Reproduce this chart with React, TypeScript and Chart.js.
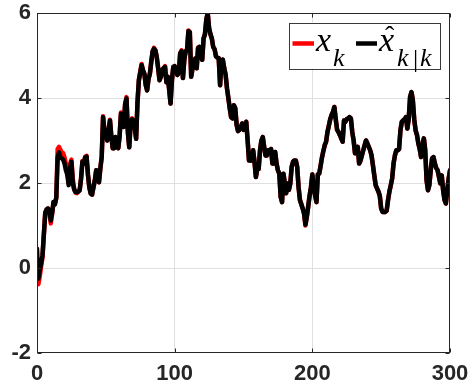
import React, { useEffect, useRef } from "react";
import { Chart, registerables } from "chart.js";

Chart.register(...registerables);

// True state x_k, one value per time step k = 0..300
const trueState: number[] = [
  -0.05, -0.38, -0.2, 0.05, 0.25, 0.8, 1.3, 1.38, 1.4, 1.33,
  1.05, 1.28, 1.55, 1.5, 1.65, 2.8, 2.85, 2.78, 2.72, 2.7,
  2.6, 2.45, 2.3, 2.0, 2.45, 2.55, 2.1, 1.85, 1.77, 1.76,
  1.8, 1.83, 2.1, 2.52, 2.45, 2.62, 2.64, 2.2, 1.9, 1.75,
  1.73, 1.9, 2.06, 2.3, 2.25, 2.02, 2.34, 2.62, 3.57, 3.2,
  3.15, 3.0, 3.25, 3.49, 3.1, 2.82, 2.82, 3.08, 3.05, 2.82,
  3.1, 3.66, 3.5, 3.32, 3.85, 4.02, 3.2, 2.84, 3.4, 3.52,
  3.47, 3.3, 3.04, 3.9, 4.42, 4.62, 4.8, 4.65, 4.57, 4.3,
  4.18, 4.45, 4.57, 4.85, 5.1, 5.18, 5.12, 4.96, 4.7, 4.42,
  4.5, 4.66, 4.7, 4.75, 4.37, 4.5, 4.2, 3.87, 4.42, 4.73,
  4.75, 4.7, 4.54, 4.6, 5.05, 5.12, 4.47, 4.9, 5.1, 5.14,
  5.59, 5.55, 4.5, 4.7, 4.72, 4.93, 4.7, 5.19, 5.2, 5.0,
  4.9, 5.4, 5.5, 5.85, 6.0, 5.64, 5.5, 5.4, 5.2, 5.15,
  4.98, 4.95, 4.94, 4.3, 4.86, 4.9, 4.7, 4.55, 4.23, 4.0,
  3.76, 3.55, 3.52, 3.83, 3.76, 3.37, 3.22, 3.25, 3.3, 3.4,
  3.25, 3.3, 3.44, 3.0, 2.53, 2.53, 2.53, 2.77, 2.5, 2.14,
  2.33, 2.33, 2.77, 3.0, 3.08, 2.85, 2.65, 2.65, 2.77, 2.75,
  2.8, 2.46, 2.46, 2.73, 2.46, 2.3, 2.22, 1.67, 1.55, 2.22,
  2.0, 1.76, 1.99, 1.84, 1.99, 2.38, 2.5, 2.53, 2.53, 2.38,
  1.9, 1.6, 1.5, 1.4, 1.28, 1.0, 1.21, 1.45, 1.7, 1.9,
  2.2, 1.9, 1.71, 1.55, 2.2, 2.22, 2.4, 2.6, 2.75, 2.89,
  2.97, 3.2, 3.35, 3.5, 3.6, 3.67, 3.79, 3.5, 3.25, 3.2,
  3.13, 3.05, 2.97, 3.47, 3.44, 3.5, 3.52, 3.55, 3.52, 3.2,
  3.0, 2.7, 2.73, 2.85, 2.46, 2.53, 2.65, 2.77, 2.89, 3.0,
  2.93, 2.85, 2.77, 2.65, 2.42, 2.18, 1.95, 1.87, 1.8, 1.7,
  1.4, 1.32, 1.32, 1.32, 1.35, 1.6, 1.8, 1.95, 2.11, 2.46,
  2.65, 2.77, 2.77, 2.8, 3.24, 3.44, 3.47, 3.5, 3.55, 3.28,
  3.5, 4.02, 4.14, 3.95, 3.5, 3.24, 3.13, 2.93, 2.8, 2.61,
  2.89, 3.05, 2.77, 2.06, 1.83, 1.95, 2.3, 2.58, 2.61, 2.46,
  2.35, 2.3, 2.14, 1.99, 2.18, 1.83, 1.6, 1.52, 1.83, 2.1,
  2.3,
];

// Filtered estimate x̂_{k|k}, one value per time step k = 0..300
const estimate: number[] = [
  0.45, -0.25, -0.05, 0.1, 0.3, 0.8, 1.3, 1.38, 1.4, 1.35,
  1.12, 1.3, 1.55, 1.5, 1.65, 2.6, 2.72, 2.6, 2.58, 2.55,
  2.46, 2.3, 2.2, 1.95, 2.35, 2.5, 2.0, 1.85, 1.79, 1.78,
  1.8, 1.83, 2.1, 2.5, 2.45, 2.6, 2.62, 2.2, 1.9, 1.75,
  1.73, 1.9, 2.06, 2.3, 2.25, 2.02, 2.34, 2.6, 3.55, 3.2,
  3.15, 3.0, 3.25, 3.47, 3.1, 2.82, 2.82, 3.08, 3.05, 2.82,
  3.1, 3.63, 3.5, 3.32, 3.85, 3.99, 3.2, 2.84, 3.4, 3.5,
  3.47, 3.3, 3.04, 3.9, 4.42, 4.6, 4.77, 4.65, 4.57, 4.3,
  4.18, 4.45, 4.57, 4.85, 5.1, 5.16, 5.12, 4.96, 4.7, 4.42,
  4.5, 4.66, 4.7, 4.73, 4.37, 4.5, 4.2, 3.87, 4.42, 4.73,
  4.75, 4.7, 4.54, 4.6, 5.05, 5.1, 4.47, 4.9, 5.1, 5.12,
  5.57, 5.55, 4.5, 4.7, 4.72, 4.93, 4.7, 5.17, 5.2, 5.0,
  4.9, 5.4, 5.5, 5.85, 5.99, 5.64, 5.5, 5.4, 5.2, 5.15,
  4.98, 4.95, 4.94, 4.3, 4.86, 4.9, 4.7, 4.55, 4.23, 4.0,
  3.76, 3.55, 3.52, 3.83, 3.76, 3.37, 3.22, 3.25, 3.3, 3.4,
  3.25, 3.3, 3.44, 3.0, 2.53, 2.53, 2.53, 2.77, 2.5, 2.14,
  2.33, 2.33, 2.77, 3.0, 3.08, 2.85, 2.65, 2.65, 2.77, 2.75,
  2.8, 2.46, 2.46, 2.73, 2.46, 2.3, 2.22, 1.67, 1.55, 2.22,
  2.0, 1.76, 1.99, 1.84, 1.99, 2.38, 2.5, 2.53, 2.53, 2.38,
  1.9, 1.6, 1.5, 1.4, 1.28, 1.02, 1.21, 1.45, 1.7, 1.9,
  2.2, 1.9, 1.71, 1.55, 2.2, 2.22, 2.4, 2.6, 2.75, 2.89,
  2.97, 3.2, 3.35, 3.5, 3.6, 3.67, 3.79, 3.5, 3.25, 3.2,
  3.13, 3.05, 2.97, 3.47, 3.44, 3.5, 3.52, 3.55, 3.52, 3.2,
  3.0, 2.7, 2.73, 2.85, 2.46, 2.53, 2.65, 2.77, 2.89, 3.0,
  2.93, 2.85, 2.77, 2.65, 2.42, 2.18, 1.95, 1.87, 1.8, 1.7,
  1.4, 1.32, 1.32, 1.32, 1.35, 1.6, 1.8, 1.95, 2.11, 2.46,
  2.65, 2.77, 2.77, 2.8, 3.24, 3.44, 3.47, 3.5, 3.55, 3.28,
  3.5, 4.02, 4.14, 3.95, 3.5, 3.24, 3.13, 2.93, 2.8, 2.61,
  2.89, 3.05, 2.77, 2.06, 1.83, 1.95, 2.3, 2.58, 2.61, 2.46,
  2.35, 2.3, 2.14, 1.99, 2.18, 1.83, 1.6, 1.52, 1.83, 2.1,
  2.3,
];

const xTickValues: number[] = [0, 100, 200, 300];
const yTickValues: number[] = [-2, 0, 2, 4, 6];

const AXIS_COLOR = "#262626";
const GRID_COLOR = "#dfdfdf";
const TRUE_COLOR = "#ff0000";
const EST_COLOR = "#000000";

const toPoints = (values: number[]) => values.map((y, k) => ({ x: k, y }));

// Box around the axes, inward tick marks and the math-style legend
const framePlugin = {
  id: "matlabFrame",
  afterDatasetsDraw(chart: any) {
    const { ctx, chartArea: a, scales } = chart;
    ctx.save();
    ctx.strokeStyle = AXIS_COLOR;
    ctx.lineWidth = 1;
    const L = Math.round(a.left) + 0.5;
    const R = Math.round(a.right) - 0.5;
    const T = Math.round(a.top) + 0.5;
    const B = Math.round(a.bottom) - 0.5;
    ctx.strokeRect(L, T, R - L, B - T);

    const tick = 4;
    ctx.beginPath();
    for (const v of xTickValues) {
      const px = Math.round(scales.x.getPixelForValue(v)) + 0.5;
      ctx.moveTo(px, B);
      ctx.lineTo(px, B - tick);
      ctx.moveTo(px, T);
      ctx.lineTo(px, T + tick);
    }
    for (const v of yTickValues) {
      const py = Math.round(scales.y.getPixelForValue(v)) + 0.5;
      ctx.moveTo(L, py);
      ctx.lineTo(L + tick, py);
      ctx.moveTo(R, py);
      ctx.lineTo(R - tick, py);
    }
    ctx.stroke();

    // legend box
    const bx = a.right - 161;
    const by = a.top + 9.5;
    const bw = 151;
    const bh = 46;
    ctx.fillStyle = "#ffffff";
    ctx.fillRect(bx, by, bw, bh);
    ctx.strokeStyle = "#3a3a3a";
    ctx.lineWidth = 1;
    ctx.strokeRect(Math.round(bx) + 0.5, Math.round(by) + 0.5, bw, bh);

    const lineY = by + 21;
    ctx.lineWidth = 4.5;
    ctx.strokeStyle = TRUE_COLOR;
    ctx.beginPath();
    ctx.moveTo(bx + 3.5, lineY);
    ctx.lineTo(bx + 25, lineY);
    ctx.stroke();
    ctx.strokeStyle = EST_COLOR;
    ctx.beginPath();
    ctx.moveTo(bx + 67, lineY);
    ctx.lineTo(bx + 88, lineY);
    ctx.stroke();

    const serif = "'Liberation Serif', 'DejaVu Serif', serif";
    const mainFont = `italic 34px ${serif}`;
    const subFont = `italic 26px ${serif}`;
    const base = by + 28;
    const subBase = by + 43;
    ctx.fillStyle = "#000000";
    ctx.textBaseline = "alphabetic";
    ctx.textAlign = "left";

    ctx.font = mainFont;
    ctx.fillText("x", bx + 27, base);
    ctx.font = subFont;
    ctx.fillText("k", bx + 44, subBase);

    ctx.font = mainFont;
    ctx.fillText("x", bx + 90, base);
    ctx.font = `28px ${serif}`;
    ctx.fillText("\u02C6", bx + 96, base - 6);
    ctx.font = subFont;
    ctx.fillText("k", bx + 108, subBase);
    ctx.font = `26px ${serif}`;
    ctx.fillText("|", bx + 124, subBase + 1);
    ctx.font = subFont;
    ctx.fillText("k", bx + 131, subBase);
    ctx.restore();
  },
};

export default function App() {
  const canvasRef = useRef<HTMLCanvasElement | null>(null);

  useEffect(() => {
    if (!canvasRef.current) return;
    const tickFont = {
      family: "'Liberation Sans', Arial, Helvetica, sans-serif",
      size: 22,
      weight: "bold" as const,
    };
    const chart = new Chart(canvasRef.current, {
      type: "line",
      data: {
        datasets: [
          {
            label: "x̂_{k|k}",
            data: toPoints(estimate),
            borderColor: EST_COLOR,
            borderWidth: 4.5,
            pointRadius: 0,
            tension: 0,
            borderJoinStyle: "round",
            borderCapStyle: "round",
            fill: false,
          },
          {
            label: "x_k",
            data: toPoints(trueState),
            borderColor: TRUE_COLOR,
            borderWidth: 4.5,
            pointRadius: 0,
            tension: 0,
            borderJoinStyle: "round",
            borderCapStyle: "round",
            fill: false,
          },
        ],
      },
      options: {
        animation: false,
        responsive: true,
        maintainAspectRatio: false,
        devicePixelRatio: 1,
        layout: { padding: { top: 13, right: 19, left: 0, bottom: 0 } },
        plugins: {
          legend: { display: false },
          tooltip: { enabled: false },
        },
        scales: {
          x: {
            type: "linear",
            min: 0,
            max: 300,
            afterBuildTicks: (scale: any) => {
              scale.ticks = xTickValues.map((value) => ({ value }));
            },
            afterFit: (scale: any) => {
              scale.height = 37;
              scale.paddingLeft = 0;
              scale.paddingRight = 0;
            },
            ticks: {
              color: AXIS_COLOR,
              font: tickFont,
              padding: 8,
              maxRotation: 0,
              autoSkip: false,
            },
            grid: {
              drawTicks: false,
              color: (c: any) =>
                c.tick && (c.tick.value === 0 || c.tick.value === 300) ? "rgba(0,0,0,0)" : GRID_COLOR,
              lineWidth: 1,
            },
            border: { display: false },
          },
          y: {
            type: "linear",
            min: -2,
            max: 6,
            afterBuildTicks: (scale: any) => {
              scale.ticks = yTickValues.map((value) => ({ value }));
            },
            afterFit: (scale: any) => {
              scale.width = 37;
              scale.paddingTop = 0;
              scale.paddingBottom = 0;
            },
            ticks: {
              color: AXIS_COLOR,
              font: tickFont,
              padding: 6,
              autoSkip: false,
            },
            grid: {
              drawTicks: false,
              color: (c: any) =>
                c.tick && (c.tick.value === -2 || c.tick.value === 6) ? "rgba(0,0,0,0)" : GRID_COLOR,
              lineWidth: 1,
            },
            border: { display: false },
          },
        },
      },
      plugins: [framePlugin],
    });
    return () => chart.destroy();
  }, []);

  return (
    <div style={{ position: "absolute", left: 0, top: 0, width: 469, height: 390, background: "#ffffff" }}>
      <canvas ref={canvasRef} />
    </div>
  );
}
